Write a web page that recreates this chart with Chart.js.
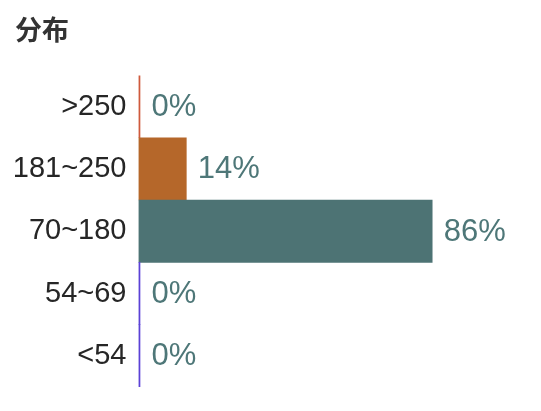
<!DOCTYPE html>
<html>
<head>
<meta charset="utf-8">
<title>分布</title>
<script src="https://cdn.jsdelivr.net/npm/chart.js@4/dist/chart.umd.min.js"></script>
<style>
    html, body { margin: 0; padding: 0; background: #fff; }
    #wrap { width: 541px; height: 411px; }
</style>
</head>
<body>
<div id="wrap"><canvas id="dist"></canvas></div>
<script>
// Ranges, top to bottom
const ranges = ['>250', '181~250', '70~180', '54~69', '<54']
// Share of readings per range, in percent
const shares = [0, 14, 86, 0, 0]
const barColors = ['#cf5a3c', '#b5672a', '#4d7374', '#5b42d6', '#5b42d6']

const labelFont = '"Liberation Sans", Arial, sans-serif'

// Writes the percentage just after the end of each bar
const valueLabels = {
    id: 'valueLabels',
    afterDatasetsDraw(chart) {
        const ctx = chart.ctx
        const meta = chart.getDatasetMeta(0)
        ctx.save()
        ctx.font = `31px ${labelFont}`
        ctx.fillStyle = '#4e7778'
        ctx.textAlign = 'left'
        ctx.textBaseline = 'middle'
        meta.data.forEach((bar, i) => {
            ctx.fillText(`${shares[i]}%`, bar.x + 11.5, bar.y + 1)
        })
        ctx.restore()
    }
}

new Chart(document.getElementById('dist'), {
    type: 'bar',
    data: {
        labels: ranges,
        datasets: [{
            data: shares,
            backgroundColor: barColors,
            borderWidth: 0,
            minBarLength: 1.5,
            barPercentage: 1,
            categoryPercentage: 1
        }]
    },
    options: {
        indexAxis: 'y',
        responsive: true,
        maintainAspectRatio: false,
        animation: false,
        layout: { padding: { left: 15, right: 61, top: 0, bottom: 24 } },
        scales: {
            x: {
                display: false,
                min: 0,
                max: 100
            },
            y: {
                grid: { display: false, drawTicks: false },
                border: { display: false },
                ticks: {
                    color: '#262626',
                    padding: 12,
                    font: { family: labelFont, size: 29 }
                },
                // keep the axis at the same place as the original,
                // labels sit in the bands so no extra room is needed
                afterFit(scale) {
                    scale.width = 123.5
                    scale.paddingTop = 0
                    scale.paddingBottom = 0
                }
            }
        },
        plugins: {
            legend: { display: false },
            tooltip: { enabled: false },
            title: {
                display: true,
                text: '分布',
                align: 'start',
                color: '#333',
                padding: { top: 14, bottom: 29 },
                font: { family: '"Noto Sans CJK SC", sans-serif', size: 27, weight: 'bold', lineHeight: 1.2 }
            }
        }
    },
    plugins: [valueLabels]
})
</script>
</body>
</html>
